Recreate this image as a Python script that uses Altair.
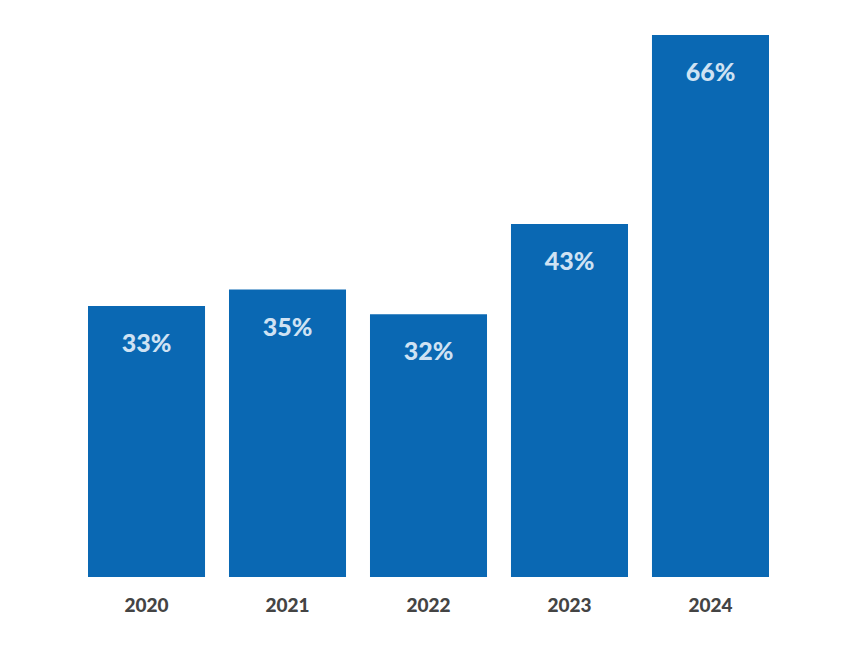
import altair as alt
import pandas as pd

years = ["2020", "2021", "2022", "2023", "2024"]
shares = [33, 35, 32, 43, 66]
labels = ["33%", "35%", "32%", "43%", "66%"]

df = pd.DataFrame({"year": years, "share": shares, "label": labels})

x = alt.X(
    "year:N",
    sort=years,
    title=None,
    scale=alt.Scale(paddingInner=0.17, paddingOuter=0),
    axis=alt.Axis(
        domain=False,
        ticks=False,
        labelAngle=0,
        labelFont="Lato",
        labelFontWeight=900,
        labelFontSize=19,
        labelColor="#444444",
        labelBaseline="middle",
        labelPadding=28,
    ),
)
y = alt.Y("share:Q", axis=None, scale=alt.Scale(domain=[0, 66], nice=False))

base = alt.Chart(df).encode(x=x, y=y)

bars = base.mark_bar(color="#0a68b3")
text = base.mark_text(
    dy=38,
    baseline="middle",
    font="Lato",
    fontWeight=900,
    fontSize=25,
    color="#cfe2f3",
).encode(text="label:N")

chart = (
    (bars + text)
    .properties(
        width=681,
        height=542,
        autosize=alt.AutoSizeParams(type="none"),
        padding={"left": 80, "top": 27, "right": 83, "bottom": 66},
        background="#ffffff",
    )
    .configure_view(stroke=None)
)

chart.save("out.html", embed_options={"renderer": "svg", "actions": False})
